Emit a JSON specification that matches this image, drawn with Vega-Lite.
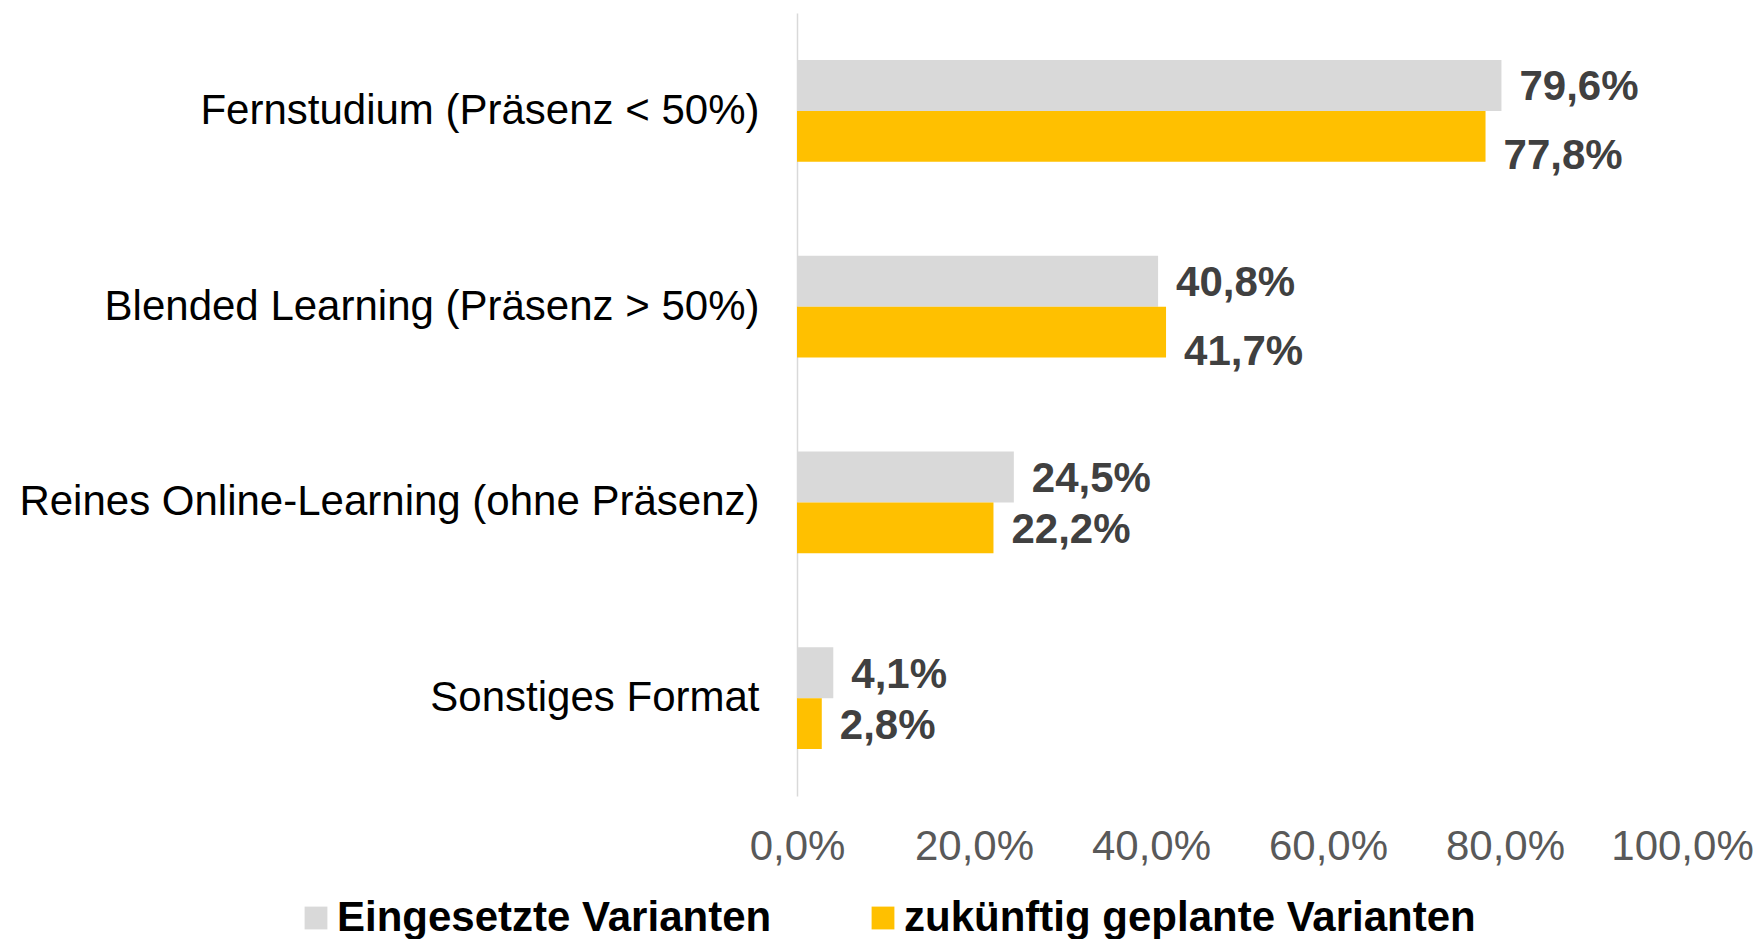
{
  "$schema": "https://vega.github.io/schema/vega-lite/v6.json",
  "width": 885,
  "height": 783,
  "autosize": {"type": "none"},
  "padding": {"left": 797, "top": 13, "right": 76, "bottom": 143},
  "config": {
    "locale": {"number": {"decimal": ",", "thousands": ".", "grouping": [3], "currency": ["", " €"]}},
    "view": {"stroke": null},
    "font": "Liberation Sans"
  },
  "data": {
    "values": [
      {"format": "Fernstudium (Präsenz < 50%)", "variant": "Eingesetzte Varianten", "value": 0.796},
      {"format": "Fernstudium (Präsenz < 50%)", "variant": "zukünftig geplante Varianten", "value": 0.778},
      {"format": "Blended Learning (Präsenz > 50%)", "variant": "Eingesetzte Varianten", "value": 0.408},
      {"format": "Blended Learning (Präsenz > 50%)", "variant": "zukünftig geplante Varianten", "value": 0.417},
      {"format": "Reines Online-Learning (ohne Präsenz)", "variant": "Eingesetzte Varianten", "value": 0.245},
      {"format": "Reines Online-Learning (ohne Präsenz)", "variant": "zukünftig geplante Varianten", "value": 0.222},
      {"format": "Sonstiges Format", "variant": "Eingesetzte Varianten", "value": 0.041},
      {"format": "Sonstiges Format", "variant": "zukünftig geplante Varianten", "value": 0.028}
    ]
  },
  "encoding": {
    "y": {
      "field": "format",
      "type": "nominal",
      "sort": ["Fernstudium (Präsenz < 50%)", "Blended Learning (Präsenz > 50%)", "Reines Online-Learning (ohne Präsenz)", "Sonstiges Format"],
      "scale": {"paddingInner": 0.48, "paddingOuter": 0.24},
      "axis": {
        "title": null,
        "domain": true,
        "domainColor": "#d9d9d9",
        "domainWidth": 1.5,
        "ticks": false,
        "labelFontSize": 42,
        "labelColor": "#000000",
        "labelPadding": 38,
        "labelLimit": 1000,
        "grid": false
      }
    },
    "yOffset": {"field": "variant", "type": "nominal", "sort": ["Eingesetzte Varianten", "zukünftig geplante Varianten"]},
    "x": {
      "field": "value",
      "type": "quantitative",
      "scale": {"domain": [0, 1]},
      "axis": {
        "title": null,
        "domain": false,
        "ticks": false,
        "grid": false,
        "values": [0, 0.2, 0.4, 0.6, 0.8, 1.0],
        "format": ".1%",
        "labelFontSize": 42,
        "labelColor": "#595959",
        "labelPadding": 30,
        "labelFlush": false,
        "labelOverlap": false
      }
    }
  },
  "layer": [
    {
      "mark": {"type": "bar"},
      "encoding": {
        "color": {
          "field": "variant",
          "type": "nominal",
          "scale": {"domain": ["Eingesetzte Varianten", "zukünftig geplante Varianten"], "range": ["#d9d9d9", "#ffc000"]},
          "legend": {
            "orient": "none",
            "legendX": -502,
            "legendY": 884,
            "direction": "horizontal",
            "title": null,
            "symbolType": "square",
            "symbolSize": 520,
            "symbolStrokeWidth": 0,
            "labelFontSize": 42,
            "labelFontWeight": "bold",
            "labelColor": "#000000",
            "labelOffset": 0,
            "columnPadding": 90,
            "labelLimit": 1000
          }
        }
      }
    },
    {
      "transform": [{"filter": "!(datum.variant === 'zukünftig geplante Varianten' && (datum.format === 'Fernstudium (Präsenz < 50%)' || datum.format === 'Blended Learning (Präsenz > 50%)'))"}],
      "mark": {"type": "text", "align": "left", "baseline": "middle", "dx": 18, "dy": 2, "fontWeight": "bold", "fontSize": 42, "color": "#404040"},
      "encoding": {"text": {"field": "value", "type": "quantitative", "format": ".1%"}}
    },
    {
      "transform": [{"filter": "datum.variant === 'zukünftig geplante Varianten' && (datum.format === 'Fernstudium (Präsenz < 50%)' || datum.format === 'Blended Learning (Präsenz > 50%)')"}],
      "mark": {"type": "text", "align": "left", "baseline": "middle", "dx": 18, "dy": 20, "fontWeight": "bold", "fontSize": 42, "color": "#404040"},
      "encoding": {"text": {"field": "value", "type": "quantitative", "format": ".1%"}}
    }
  ]
}
